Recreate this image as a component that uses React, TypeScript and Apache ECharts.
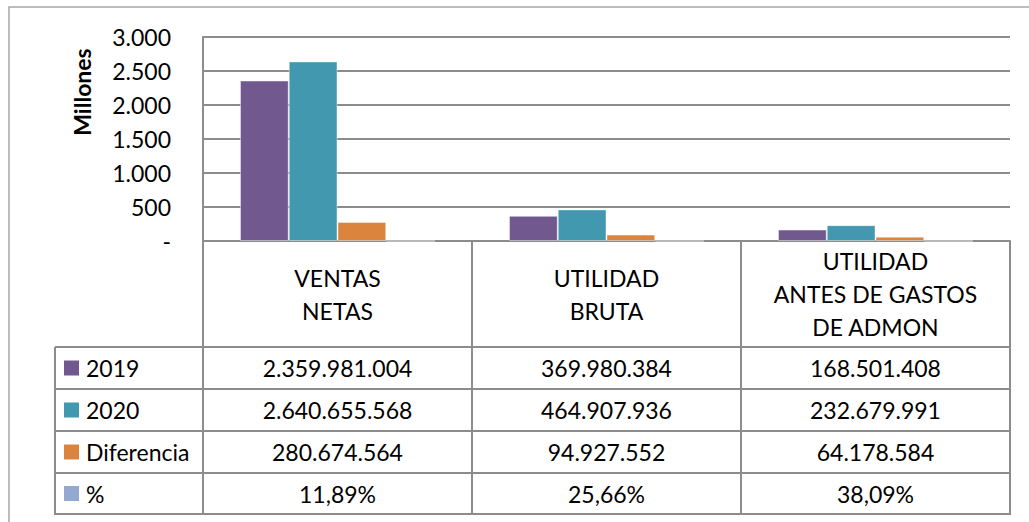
import React, { useEffect, useRef } from "react";
import * as echarts from "echarts";

const categories = ["VENTAS\nNETAS", "UTILIDAD\nBRUTA", "UTILIDAD\nANTES DE GASTOS\nDE ADMON"];
const seriesNames = ["2019", "2020", "Diferencia", "%"];
const v2019 = [2359981004, 369980384, 168501408];
const v2020 = [2640655568, 464907936, 232679991];
const diff = [280674564, 94927552, 64178584];
const pct = [0.1189, 0.2566, 0.3809];
const colors = ["#71588F", "#4198AF", "#DB843D", "#93A9CF"];

const yMax = 3000000000;
const yStep = 500000000;

const FONT = "Lato";
const GRID = "#8c8c8c";

function fmtThousands(n: number): string {
  const s = Math.round(n).toString();
  return s.replace(/\B(?=(\d{3})+(?!\d))/g, ".");
}
function fmtPct(n: number): string {
  return (n * 100).toFixed(2).replace(".", ",") + "%";
}

export default function App() {
  const ref = useRef<HTMLDivElement>(null);
  useEffect(() => {
    document.body.style.margin = "0";
    const chart = echarts.init(ref.current!, null, { renderer: "svg" });
    const rowsData = [v2019, v2020, diff, pct];
    const option: any = {
      animation: false,
      backgroundColor: "#fff",
      grid: { left: 203, top: 37, right: 19, bottom: 281, containLabel: false },
      xAxis: {
        type: "category",
        data: categories,
        axisLine: { show: true, lineStyle: { color: GRID, width: 2 } },
        axisTick: { show: true, interval: 0, length: 273, lineStyle: { color: GRID, width: 2 } },
        axisLabel: {
          interval: 0,
          margin: 53,
          fontFamily: FONT,
          fontSize: 23,
          color: "#000",
          lineHeight: 33,
          verticalAlign: "middle",
          align: "center",
        },
      },
      yAxis: {
        type: "value",
        min: 0,
        max: yMax,
        interval: yStep,
        axisLine: { show: true, lineStyle: { color: GRID, width: 2 } },
        axisTick: { show: false },
        splitLine: { show: true, lineStyle: { color: GRID, width: 2 } },
        axisLabel: {
          margin: 32,
          fontFamily: FONT,
          fontSize: 23,
          color: "#000",
          formatter: (v: number) => (v === 0 ? "-" : fmtThousands(v / 1000000)),
        },
      },
      series: seriesNames.map((name, i) => ({
        name,
        type: "bar",
        data: rowsData[i],
        barGap: "0%",
        barCategoryGap: "27.5%",
        itemStyle: { color: colors[i], borderColor: "rgba(255,255,255,0.45)", borderWidth: 1 },
      })),
    };
    chart.setOption(option);

    const rowTops = [347, 389, 431, 473, 514];
    const tableLeft = 55;
    const tableRight = 1010;
    const g: any[] = [];
    // outer chart border (top and left)
    g.push({
      type: "polyline",
      shape: { points: [[9, 522], [9, 7], [1029, 7]] },
      style: { stroke: "#a6a6a6", lineWidth: 1.5, fill: "none" },
      silent: true,
    });
    rowTops.forEach((y) => {
      g.push({
        type: "line",
        shape: { x1: tableLeft, y1: y, x2: tableRight + 1, y2: y },
        style: { stroke: GRID, lineWidth: 2 },
        silent: true,
      });
    });
    g.push({
      type: "line",
      shape: { x1: tableLeft, y1: rowTops[0], x2: tableLeft, y2: rowTops[4] + 1 },
      style: { stroke: GRID, lineWidth: 2 },
      silent: true,
    });
    g.push({
      type: "line",
      shape: { x1: tableRight, y1: 241, x2: tableRight, y2: rowTops[4] + 1 },
      style: { stroke: GRID, lineWidth: 2 },
      silent: true,
    });
    rowsData.forEach((row, r) => {
      const yc = (rowTops[r] + rowTops[r + 1]) / 2;
      // legend key + label
      g.push({
        type: "rect",
        silent: true,
        shape: { x: 64, y: yc - 7.5, width: 15, height: 15 },
        style: { fill: colors[r] },
      });
      g.push({
        type: "text",
        silent: true,
        style: {
          text: seriesNames[r],
          x: 86,
          y: yc,
          textAlign: "left",
          textVerticalAlign: "middle",
          align: "left",
          verticalAlign: "middle",
          fontFamily: FONT,
          fontSize: 23,
          fill: "#000",
        },
      });
      row.forEach((v, c) => {
        const xc = chart.convertToPixel({ xAxisIndex: 0 }, c) as number;
        g.push({
          type: "text",
          silent: true,
          style: {
            text: r === 3 ? fmtPct(v) : fmtThousands(v),
            x: xc,
            y: yc,
            textAlign: "center",
            textVerticalAlign: "middle",
            align: "center",
            verticalAlign: "middle",
            fontFamily: FONT,
            fontSize: 23,
            fill: "#000",
          },
        });
      });
    });
    g.push({
      type: "text",
      silent: true,
      x: 82,
      y: 92,
      rotation: Math.PI / 2,
      style: {
        text: "Millones",
        x: 0,
        y: 0,
        textAlign: "center",
        textVerticalAlign: "middle",
        align: "center",
        verticalAlign: "middle",
        fontFamily: FONT,
        fontSize: 23,
        fontWeight: "bold",
        fill: "#000",
      },
    });
    chart.setOption({ graphic: { elements: g } });
    return () => chart.dispose();
  }, []);
  return <div ref={ref} style={{ width: 1029, height: 522 }} />;
}
